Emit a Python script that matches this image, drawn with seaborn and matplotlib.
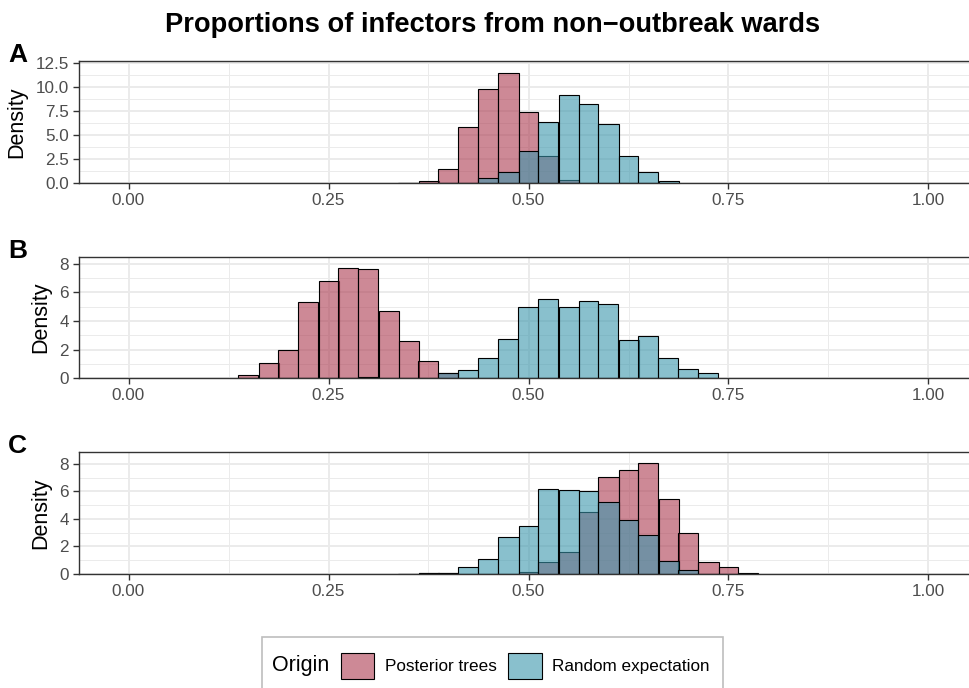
import matplotlib
matplotlib.use('Agg')
import matplotlib.pyplot as plt
from matplotlib.patches import Patch, Rectangle
from matplotlib.ticker import MultipleLocator, FormatStrFormatter
import seaborn as sns

# bin centres (binwidth 0.025) and densities
a_bins = [0.35, 0.375, 0.40, 0.425, 0.45, 0.475, 0.50, 0.525, 0.55, 0.575, 0.60, 0.625, 0.65, 0.675]
a_post = [0.05, 0.25, 1.50, 5.90, 9.80, 11.55, 7.40, 2.80, 0.30, 0.0, 0.0, 0.0, 0.0, 0.0]
a_rand = [0.03, 0.0, 0.0, 0.03, 0.50, 1.20, 3.30, 6.40, 9.20, 8.30, 6.20, 2.85, 1.10, 0.17]

b_bins = [0.15, 0.175, 0.20, 0.225, 0.25, 0.275, 0.30, 0.325, 0.35, 0.375, 0.40, 0.425, 0.45,
          0.475, 0.50, 0.525, 0.55, 0.575, 0.60, 0.625, 0.65, 0.675, 0.70, 0.725]
b_post = [0.23, 1.09, 1.97, 5.34, 6.77, 7.73, 7.66, 4.73, 2.62, 1.18, 0.38, 0.0, 0.0,
          0.0, 0.0, 0.0, 0.0, 0.0, 0.0, 0.0, 0.0, 0.0, 0.0, 0.0]
b_rand = [0.0, 0.0, 0.0, 0.0, 0.0, 0.0, 0.07, 0.0, 0.0, 0.0, 0.38, 0.58, 1.39,
          2.78, 4.99, 5.55, 4.99, 5.41, 5.17, 2.69, 2.97, 1.44, 0.63, 0.35]

c_bins = [0.35, 0.375, 0.40, 0.425, 0.45, 0.475, 0.50, 0.525, 0.55, 0.575, 0.60, 0.625,
          0.65, 0.675, 0.70, 0.725, 0.75, 0.775]
c_post = [0.0, 0.05, 0.05, 0.0, 0.0, 0.0, 0.12, 0.88, 1.63, 4.53, 7.03, 7.52,
          8.03, 5.47, 2.99, 0.88, 0.49, 0.05]
c_rand = [0.03, 0.07, 0.07, 0.49, 1.07, 2.70, 3.50, 6.20, 6.13, 6.01, 5.26, 3.94,
          2.82, 0.95, 0.32, 0.0, 0.0, 0.0]

panels = [('A', a_bins, a_post, a_rand, 2.5, '%.1f'),
          ('B', b_bins, b_post, b_rand, 2, '%d'),
          ('C', c_bins, c_post, c_rand, 2, '%d')]

origins = ['Posterior trees', 'Random expectation']
colors = {'Posterior trees': '#AC3A50', 'Random expectation': '#3A96AC'}
ALPHA = 0.6
BW = 0.025

sns.set_style('white')
plt.rcParams['font.family'] = ['Liberation Sans', 'DejaVu Sans']
plt.rcParams['text.color'] = 'black'
plt.rcParams['axes.labelcolor'] = 'black'

W, H = 970, 688
fig = plt.figure(figsize=(W / 100, H / 100), dpi=100)

# panel boxes in pixels: (top, bottom)
boxes = [(61.5, 183.0), (256.7, 378.3), (452.3, 574.0)]
left_px = 78.5
width_px = 900.0

for (lab, bins, post, rand, ystep, yfmt), (top, bot) in zip(panels, boxes):
    ax = fig.add_axes([left_px / W, 1 - bot / H, width_px / W, (bot - top) / H])
    lo, hi = min(bins) - BW / 2, max(bins) + BW / 2
    for name, vals in zip(origins, [post, rand]):
        sns.histplot(x=bins, weights=vals, binwidth=BW, binrange=(lo, hi),
                     color=colors[name], alpha=ALPHA, edgecolor='black',
                     linewidth=0.8, ax=ax)
    ymax = max(max(post), max(rand)) * 1.1
    ax.set_ylim(0, ymax)
    ax.set_xlim(-0.0625, 1.0625)

    ax.xaxis.set_major_locator(MultipleLocator(0.25))
    ax.xaxis.set_minor_locator(MultipleLocator(0.125))
    ax.xaxis.set_major_formatter(FormatStrFormatter('%.2f'))
    ax.yaxis.set_major_locator(MultipleLocator(ystep))
    ax.yaxis.set_minor_locator(MultipleLocator(ystep / 2))
    ax.yaxis.set_major_formatter(FormatStrFormatter(yfmt))

    ax.set_axisbelow(True)
    ax.grid(which='major', color='#EBEBEB', linewidth=1.4)
    ax.grid(which='minor', color='#EBEBEB', linewidth=0.7)
    ax.tick_params(which='major', length=4, width=1, color='#333333',
                   labelsize=12.3, labelcolor='#4D4D4D', pad=3, left=True, bottom=True)
    ax.tick_params(which='minor', length=0)
    for sp in ax.spines.values():
        sp.set_color('#333333')
        sp.set_linewidth(1.0)
        sp.set_visible(True)

    ax.set_xlabel('')
    ax.set_ylabel('Density', fontsize=15.5, color='black', labelpad=6)

    fig.text(8 / W, 1 - (top + 1) / H, lab, fontsize=19, fontweight='bold',
             ha='left', va='baseline', color='black')

fig.text(492.5 / W, 1 - 31.7 / H, 'Proportions of infectors from non\u2212outbreak wards',
         fontsize=19.6, fontweight='bold', ha='center', va='baseline', color='black')

# legend at the bottom
handles = [Patch(facecolor=matplotlib.colors.to_rgba(colors[o], ALPHA),
                 edgecolor='black', linewidth=0.8) for o in origins]
leg = fig.legend(handles, origins, ncol=2, loc='center left',
                 bbox_to_anchor=(340.7 / W, 1 - 666 / H), frameon=False,
                 fontsize=12.3, handlelength=1.95, handleheight=1.95,
                 handletextpad=0.62, columnspacing=0.7, borderpad=0, borderaxespad=0)
for t in leg.get_texts():
    t.set_color('black')
fig.text(271.7 / W, 1 - 666 / H, 'Origin', fontsize=15.5, ha='left', va='center', color='black')
fig.patches.append(Rectangle((261.7 / W, -0.05), (723 - 261.7) / W, 0.05 + 1 - 637 / H,
                             transform=fig.transFigure, facecolor='none',
                             edgecolor='#BEBEBE', linewidth=1.2))

fig.savefig('out.png', dpi=100)
